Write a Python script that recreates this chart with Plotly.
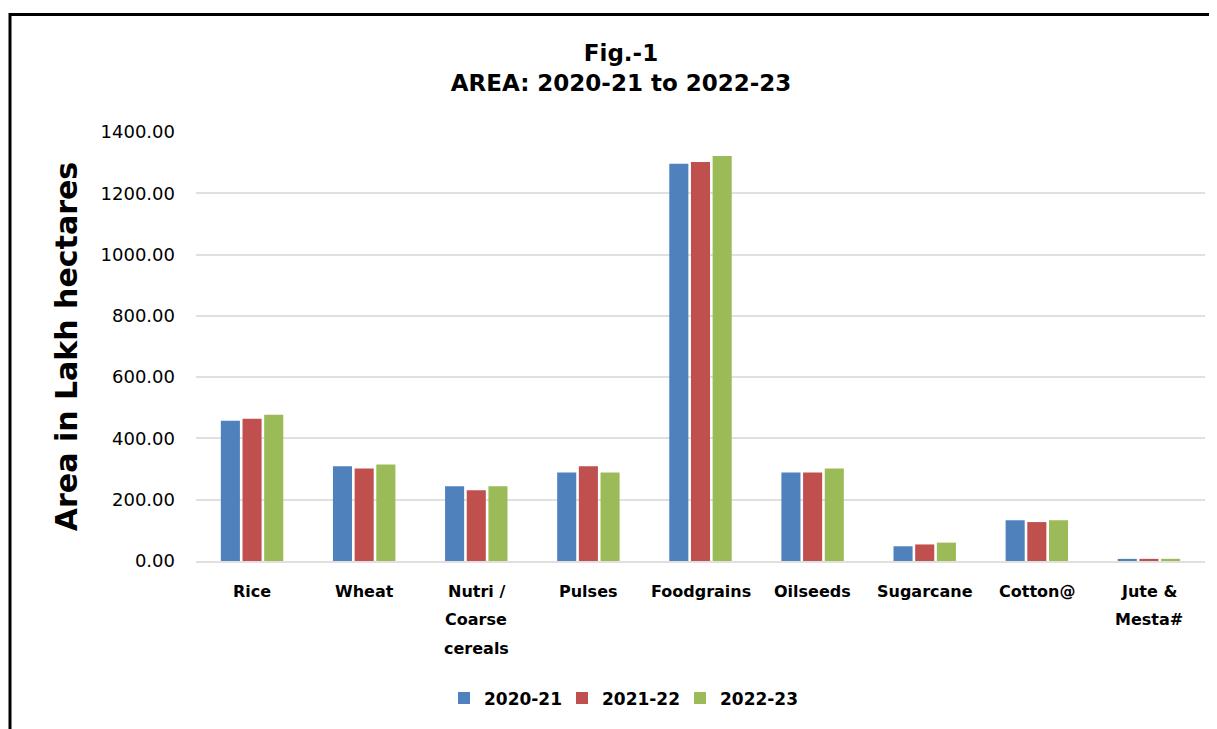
import plotly.graph_objs as go

# Categories and area values (lakh hectares)
crops = ["Rice", "Wheat", "Nutri / Coarse cereals", "Pulses", "Foodgrains",
         "Oilseeds", "Sugarcane", "Cotton@", "Jute & Mesta#"]
crop_label_lines = [["Rice"], ["Wheat"], ["Nutri /", "Coarse", "cereals"], ["Pulses"],
                    ["Foodgrains"], ["Oilseeds"], ["Sugarcane"], ["Cotton@"], ["Jute &", "Mesta#"]]
years = ["2020-21", "2021-22", "2022-23"]
area_2020_21 = [458, 309, 244, 289, 1296, 289, 48, 133, 7]
area_2021_22 = [464, 302, 231, 309, 1302, 289, 54, 127, 7]
area_2022_23 = [477, 315, 244, 289, 1322, 302, 60, 133, 7]
colors = ["#4F81BD", "#C0504D", "#9BBB59"]

traces = []
for name, vals, col in zip(years, [area_2020_21, area_2021_22, area_2022_23], colors):
    traces.append(go.Bar(x=crops, y=vals, name=name, marker=dict(color=col, line=dict(width=0))))

fig = go.Figure(data=traces)

font_family = "DejaVu Sans"
# the page body has an 8px margin, so the figure is a bit smaller than the window
W, H = 1209, 721
plot_h = 563 - 132

# category labels, one annotation per line so the line spacing matches the original
annotations = []
for crop, lines in zip(crops, crop_label_lines):
    for i, line in enumerate(lines):
        annotations.append(dict(
            x=crop, xref="x", y=-(19 + i * 28.5) / plot_h, yref="paper",
            yanchor="top", xanchor="center", showarrow=False, text="<b>" + line + "</b>",
            font=dict(size=16, family=font_family, color="black"),
        ))

fig.update_layout(
    width=W,
    height=H,
    autosize=False,
    margin=dict(l=188, r=12, t=124, b=166),
    paper_bgcolor="white",
    plot_bgcolor="white",
    barmode="group",
    bargap=0.42,
    bargroupgap=0.12,
    font=dict(family=font_family, color="black"),
    title=dict(
        text="<b>Fig.-1</b><br><b>AREA: 2020-21 to 2022-23</b>",
        x=(621 - 196) / 1009, xref="paper", xanchor="center",
        y=1 - 53 / H, yanchor="middle",
        font=dict(size=23, family=font_family, color="black"),
    ),
    yaxis=dict(
        range=[0, 1400],
        dtick=200,
        tickformat=".2f",
        showgrid=True,
        gridcolor="#E0E0E0",
        gridwidth=2,
        zeroline=False,
        showline=False,
        ticks="",
        ticklabelstandoff=20,
        tickfont=dict(size=18, family=font_family, color="black"),
        title=dict(text="<b>Area in Lakh hectares</b>", standoff=14,
                   font=dict(size=30, family=font_family, color="black")),
        automargin=False,
    ),
    xaxis=dict(
        showline=True,
        linecolor="#E0E0E0",
        linewidth=2,
        ticks="",
        showticklabels=False,
        automargin=False,
    ),
    legend=dict(
        orientation="h",
        x=(621 - 196) / 1009, xanchor="center",
        y=(563 - 701) / plot_h, yanchor="middle",
        font=dict(size=17, family=font_family, color="black", weight="bold"),
        entrywidth=73,
        itemwidth=30,
    ),
    annotations=annotations,
    shapes=[
        # outer chart frame (extends past the page edges on the right and bottom)
        dict(type="rect", xref="paper", yref="paper",
             x0=(10 - 196) / 1009, x1=(1240 - 196) / 1009,
             y0=(563 - 745) / plot_h, y1=(563 - 14) / plot_h,
             line=dict(color="black", width=3), fillcolor="rgba(0,0,0,0)", layer="below"),
    ],
)

fig.write_html("out.html")
